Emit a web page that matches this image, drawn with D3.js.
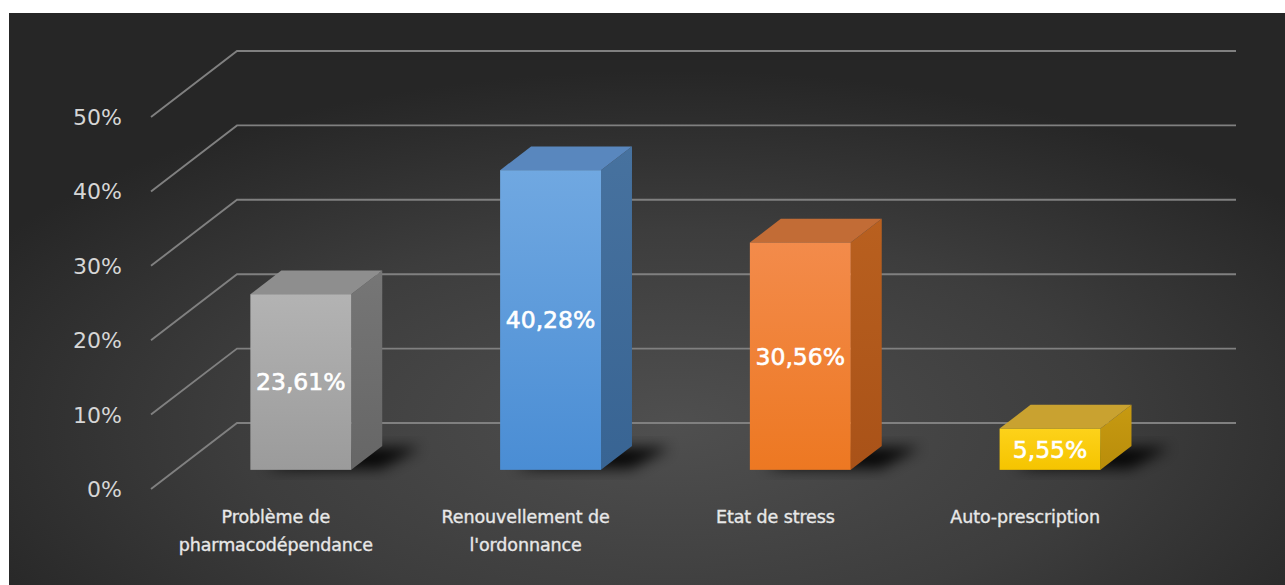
<!DOCTYPE html>
<html>
<head>
<meta charset="utf-8">
<script src="https://cdn.jsdelivr.net/npm/d3@7/dist/d3.min.js"></script>
<style>
  html, body { margin: 0; padding: 0; background: #ffffff; }
  svg { display: block; }
</style>
</head>
<body>
<svg id="chart" width="1285" height="585"></svg>
<script>
// Chart data
const categories = ["Problème de pharmacodépendance", "Renouvellement de l'ordonnance", "Etat de stress", "Auto-prescription"];
const categoryLines = [["Problème de", "pharmacodépendance"], ["Renouvellement de", "l'ordonnance"], ["Etat de stress"], ["Auto-prescription"]];
const values = [23.61, 40.28, 30.56, 5.55];
const valueLabels = ["23,61%", "40,28%", "30,56%", "5,55%"];
const tickValues = [0, 10, 20, 30, 40, 50];
const tickLabels = ["0%", "10%", "20%", "30%", "40%", "50%"];

// Bar colour sets: front (top, bottom), side, top
const barColors = [
  { front: ["#b3b3b3", "#9b9b9b"], side: ["#767676", "#666666"], top: "#8e8e8e" },
  { front: ["#70a8e1", "#4a8dd4"], side: ["#47729f", "#386493"], top: "#5987be" },
  { front: ["#f38b4b", "#ed7822"], side: ["#b9601f", "#a95218"], top: "#c26c36" },
  { front: ["#fdd21a", "#f5c400"], side: ["#c79a12", "#b98d0a"], top: "#c9a230" }
];

const svg = d3.select("#chart");
const defs = svg.append("defs");

// Plot geometry (oblique 3D): back wall and depth vector
const wallLeft = 237, wallRight = 1236;
const depth = { dx: -86, dy: 66 };
const barDepth = [0.35, 0.71];   // bar back/front position along depth
const barWidthFrac = 0.404;

const x = d3.scaleBand().domain(categories).range([wallLeft, wallRight]).padding(0);
const y = d3.scaleLinear().domain([0, 50]).range([423, 51]);

const pt = (px, v, t) => [px + t * depth.dx, y(v) + t * depth.dy];

// Background panel
const bg = defs.append("radialGradient").attr("id", "bgGrad")
  .attr("cx", "52%").attr("cy", "72%").attr("r", "62%");
bg.append("stop").attr("offset", "0%").attr("stop-color", "#4f4f4f");
bg.append("stop").attr("offset", "55%").attr("stop-color", "#3d3d3d");
bg.append("stop").attr("offset", "100%").attr("stop-color", "#262626");
svg.append("rect").attr("x", 9).attr("y", 13).attr("width", 1276).attr("height", 572)
  .attr("fill", "url(#bgGrad)");

// Gridlines: back wall + left side wall diagonals
const grid = svg.append("g").attr("stroke", "#808080").attr("stroke-width", 1.9).attr("fill", "none");
tickValues.forEach(v => {
  const [fx, fy] = pt(wallLeft, v, 1);
  grid.append("path").attr("d", `M${fx},${fy}L${wallLeft},${y(v)}L${wallRight},${y(v)}`);
});

// Tick labels on the front edge
svg.append("g").selectAll("text").data(tickValues).join("text")
  .attr("x", 122)
  .attr("y", v => y(v) + depth.dy)
  .attr("dy", "0.36em")
  .attr("text-anchor", "end")
  .attr("fill", "#d6d6d6")
  .attr("font-family", "'DejaVu Sans', sans-serif")
  .attr("font-size", 22)
  .text((v, i) => tickLabels[i]);

// Shadow filter
const blur = defs.append("filter").attr("id", "shadowBlur")
  .attr("x", "-50%").attr("y", "-50%").attr("width", "200%").attr("height", "200%");
blur.append("feGaussianBlur").attr("stdDeviation", 7);

// Gradients per bar
barColors.forEach((c, i) => {
  const fg = defs.append("linearGradient").attr("id", `front${i}`)
    .attr("x1", 0).attr("y1", 0).attr("x2", 0).attr("y2", 1);
  fg.append("stop").attr("offset", "0%").attr("stop-color", c.front[0]);
  fg.append("stop").attr("offset", "100%").attr("stop-color", c.front[1]);
  const sg = defs.append("linearGradient").attr("id", `side${i}`)
    .attr("x1", 0).attr("y1", 0).attr("x2", 0).attr("y2", 1);
  sg.append("stop").attr("offset", "0%").attr("stop-color", c.side[0]);
  sg.append("stop").attr("offset", "100%").attr("stop-color", c.side[1]);
});

const poly = pts => "M" + pts.map(p => p.join(",")).join("L") + "Z";

const bars = svg.append("g");
categories.forEach((cat, i) => {
  const v = values[i];
  const cx = x(cat) + x.bandwidth() / 2;
  const hw = x.bandwidth() * barWidthFrac / 2;
  const l = cx - hw, r = cx + hw;
  const [tb, tf] = barDepth;

  // soft floor shadow behind the bar
  const sh = [pt(l + 12, 0, tf - 0.02), pt(r + 28, 0, tf - 0.02), pt(r + 40, 0, tb + 0.02), pt(l + 40, 0, tb + 0.02)];
  bars.append("path").attr("d", poly(sh)).attr("fill", "#000").attr("opacity", 0.9)
    .attr("filter", "url(#shadowBlur)");

  // right side face
  bars.append("path")
    .attr("d", poly([pt(r, 0, tf), pt(r, v, tf), pt(r, v, tb), pt(r, 0, tb)]))
    .attr("fill", `url(#side${i})`);
  // top face
  bars.append("path")
    .attr("d", poly([pt(l, v, tf), pt(r, v, tf), pt(r, v, tb), pt(l, v, tb)]))
    .attr("fill", barColors[i].top);
  // front face
  const [fl, ft] = pt(l, v, tf);
  const [fr, fb] = pt(r, 0, tf);
  bars.append("rect")
    .attr("x", fl).attr("y", ft).attr("width", fr - fl).attr("height", fb - ft)
    .attr("fill", `url(#front${i})`);

  // value label centred on the front face
  bars.append("text")
    .attr("x", (fl + fr) / 2)
    .attr("y", (ft + fb) / 2)
    .attr("dy", "0.36em")
    .attr("text-anchor", "middle")
    .attr("fill", "#ffffff")
    .attr("stroke", "#ffffff").attr("stroke-width", 0.6)
    .attr("font-family", "'DejaVu Sans', sans-serif")
    .attr("font-size", 23.5)
    .text(valueLabels[i]);
});

// Category labels along the front floor edge
const catG = svg.append("g")
  .attr("fill", "#e8e8e8")
  .attr("stroke", "#e8e8e8").attr("stroke-width", 0.35)
  .attr("font-family", "'DejaVu Sans', sans-serif")
  .attr("font-size", 17.5)
  .attr("letter-spacing", -0.1)
  .attr("text-anchor", "middle");
categories.forEach((cat, i) => {
  const cx = x(cat) + x.bandwidth() / 2 + depth.dx;
  const t = catG.append("text").attr("x", cx).attr("y", 523);
  categoryLines[i].forEach((line, j) => {
    t.append("tspan").attr("x", cx).attr("dy", j === 0 ? 0 : 28).text(line);
  });
});
</script>
</body>
</html>
